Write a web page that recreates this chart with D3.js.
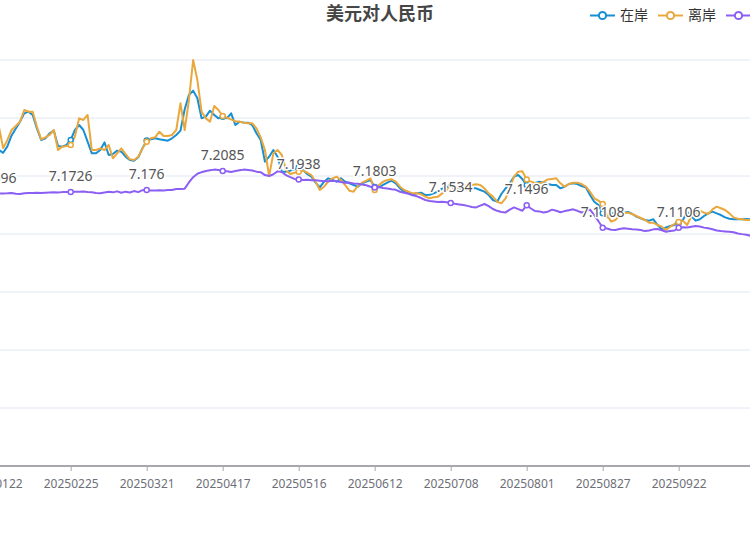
<!DOCTYPE html>
<html>
<head>
<meta charset="utf-8">
<script src="https://cdn.jsdelivr.net/npm/d3@7"></script>
<style>
  body { margin: 0; background: #fff; overflow: hidden; }
  svg { display: block; font-family: "Noto Sans", "Noto Sans CJK SC", sans-serif; }
</style>
</head>
<body>
<div id="chart"></div>
<script>
// trading days (only the part of the chart that is in view)
const categories = [
  "20250122","20250123","20250124","20250127","20250205","20250206","20250207",
  "20250210","20250211","20250212","20250213","20250214","20250217","20250218","20250219","20250220","20250221",
  "20250224","20250225","20250226","20250227","20250228","20250303","20250304","20250305","20250306","20250307",
  "20250310","20250311","20250312","20250313","20250314","20250317","20250318","20250319","20250320","20250321",
  "20250324","20250325","20250326","20250327","20250328","20250331","20250401","20250402","20250403",
  "20250407","20250408","20250409","20250410","20250411","20250414","20250415","20250416","20250417","20250418",
  "20250421","20250422","20250423","20250424","20250425","20250428","20250429","20250430",
  "20250506","20250507","20250508","20250509","20250512","20250513","20250514","20250515","20250516",
  "20250519","20250520","20250521","20250522","20250523","20250526","20250527","20250528","20250529","20250530",
  "20250603","20250604","20250605","20250606","20250609","20250610","20250611","20250612","20250613",
  "20250616","20250617","20250618","20250619","20250620","20250623","20250624","20250625","20250626","20250627",
  "20250630","20250701","20250702","20250703","20250704","20250707","20250708","20250709","20250710","20250711",
  "20250714","20250715","20250716","20250717","20250718","20250721","20250722","20250723","20250724","20250725",
  "20250728","20250729","20250730","20250731","20250801","20250804","20250805","20250806","20250807","20250808",
  "20250811","20250812","20250813","20250814","20250815","20250818","20250819","20250820","20250821","20250822",
  "20250825","20250826","20250827","20250828","20250829","20250901","20250902","20250903","20250904","20250905",
  "20250908","20250909","20250910","20250911","20250912","20250915","20250916","20250917","20250918","20250919",
  "20250922","20250923","20250924","20250925","20250926","20250929","20250930","20251009","20251010",
  "20251013","20251014","20251015","20251016","20251017","20251020","20251021","20251022","20251023"
];

const onshore = [
  7.2520,7.2448,7.2400,7.2510,7.2700,7.2820,7.2937,7.3080,7.3109,7.3052,7.2822,7.2621,7.2650,7.2736,7.2782,7.2518,7.2506,7.2535,
  7.2621,7.2793,7.2879,7.2793,7.2592,7.2391,7.2391,7.2448,7.2580,7.2362,7.2379,7.2437,7.2419,7.2333,7.2276,7.2264,7.2322,7.2477,
  7.2610,7.2632,7.2650,7.2632,7.2621,7.2609,7.2650,7.2707,7.2782,7.3150,7.3397,7.3472,7.3340,7.2994,7.3023,7.3126,7.3052,7.2994,
  7.3023,7.2994,7.3080,7.2879,7.2937,7.2920,7.2920,7.2879,7.2736,7.2621,7.2247,7.2333,7.2448,7.2333,7.2075,7.2075,7.2092,7.2115,
  7.2149,7.2103,7.2034,7.1988,7.1885,7.1805,7.1902,7.1960,7.1931,7.1902,7.1960,7.1902,7.1874,7.1845,7.1816,7.1874,7.1902,7.1931,
  7.1810,7.1805,7.1845,7.1885,7.1920,7.1874,7.1787,7.1730,7.1701,7.1684,7.1701,7.1713,7.1672,7.1678,7.1701,7.1736,7.1782,7.1805,
  7.1816,7.1805,7.1782,7.1770,7.1770,7.1787,7.1787,7.1759,7.1730,7.1672,7.1586,7.1557,7.1690,7.1787,7.1874,7.1988,7.2017,7.1943,
  7.1845,7.1816,7.1880,7.1900,7.1885,7.1862,7.1845,7.1845,7.1787,7.1816,7.1862,7.1874,7.1862,7.1828,7.1805,7.1672,7.1557,7.1500,
  7.1356,7.1287,7.1356,7.1368,7.1356,7.1368,7.1379,7.1345,7.1299,7.1270,7.1241,7.1230,7.1253,7.1155,7.1080,7.1115,7.1138,7.1155,
  7.1195,7.1241,7.1385,7.1310,7.1230,7.1253,7.1310,7.1356,7.1385,7.1356,7.1327,7.1287,7.1264,7.1253,7.1253,7.1253,7.1259,7.1253
];

const offshore = [
  7.2900,7.2850,7.2480,7.2621,7.2793,7.2862,7.2937,7.3138,7.3109,7.3109,7.2850,7.2632,7.2667,7.2707,7.2793,7.2448,7.2506,7.2518,
  7.2535,7.2680,7.2994,7.2966,7.3052,7.2448,7.2448,7.2477,7.2448,7.2535,7.2305,7.2391,7.2477,7.2379,7.2287,7.2276,7.2333,7.2477,
  7.2592,7.2650,7.2667,7.2764,7.2690,7.2690,7.2707,7.2793,7.3253,7.2793,7.3310,7.4000,7.3655,7.3109,7.2994,7.2937,7.3207,7.3138,
  7.3034,7.3005,7.2977,7.2943,7.2937,7.2920,7.2908,7.2908,7.2822,7.2667,7.2448,7.2000,7.2391,7.2448,7.2362,7.2103,7.2034,7.2057,
  7.2075,7.2092,7.2057,7.2017,7.1902,7.1759,7.1816,7.1902,7.1960,7.1988,7.1931,7.1845,7.1747,7.1730,7.1828,7.1885,7.1920,7.1960,
  7.1760,7.1845,7.1903,7.1931,7.1943,7.1903,7.1816,7.1759,7.1730,7.1701,7.1701,7.1684,7.1644,7.1615,7.1632,7.1644,7.1701,7.1759,
  7.1770,7.1787,7.1805,7.1828,7.1845,7.1845,7.1857,7.1845,7.1787,7.1701,7.1644,7.1557,7.1529,7.1615,7.1787,7.1988,7.2075,7.2080,
  7.1940,7.1900,7.1880,7.1870,7.1900,7.1940,7.1950,7.1960,7.1874,7.1816,7.1862,7.1885,7.1885,7.1862,7.1816,7.1730,7.1615,7.1575,
  7.1517,7.1327,7.1213,7.1241,7.1327,7.1356,7.1368,7.1345,7.1310,7.1276,7.1241,7.1195,7.1195,7.1155,7.1126,7.1069,7.1126,7.1172,
  7.1207,7.1230,7.1155,7.1310,7.1356,7.1402,7.1368,7.1345,7.1425,7.1471,7.1443,7.1414,7.1356,7.1287,7.1264,7.1253,7.1241,7.1241
];

const central = [
  7.1696,7.1698,7.1699,7.1701,7.1705,7.1693,7.1691,7.1703,7.1705,7.1708,7.1712,7.1706,7.1710,7.1715,7.1720,7.1717,7.1722,7.1724,
  7.1726,7.1727,7.1729,7.1733,7.1723,7.1720,7.1706,7.1704,7.1717,7.1728,7.1718,7.1735,7.1710,7.1730,7.1715,7.1740,7.1722,7.1755,
  7.1760,7.1752,7.1749,7.1755,7.1751,7.1757,7.1760,7.1775,7.1776,7.1782,7.1889,7.1980,7.2038,7.2066,7.2087,7.2100,7.2110,7.2105,
  7.2085,7.2080,7.2069,7.2085,7.2098,7.2110,7.2104,7.2095,7.2075,7.2066,7.2016,7.1999,7.2030,7.2080,7.2070,7.2014,7.1980,7.1950,
  7.1938,7.1931,7.1935,7.1928,7.1926,7.1920,7.1910,7.1908,7.1918,7.1909,7.1895,7.1883,7.1886,7.1870,7.1865,7.1855,7.1840,7.1815,
  7.1803,7.1811,7.1793,7.1785,7.1772,7.1761,7.1729,7.1710,7.1695,7.1668,7.1650,7.1620,7.1586,7.1570,7.1560,7.1550,7.1556,7.1546,
  7.1534,7.1520,7.1510,7.1500,7.1485,7.1466,7.1458,7.1490,7.1517,7.1480,7.1431,7.1400,7.1380,7.1372,7.1420,7.1458,7.1430,7.1401,
  7.1496,7.1440,7.1395,7.1390,7.1370,7.1385,7.1420,7.1400,7.1375,7.1395,7.1410,7.1425,7.1400,7.1370,7.1390,7.1420,7.1325,7.1220,
  7.1108,7.1095,7.1072,7.1068,7.1085,7.1100,7.1090,7.1080,7.1078,7.1068,7.1050,7.1060,7.1080,7.1085,7.1065,7.1040,7.1050,7.1060,
  7.1106,7.1118,7.1112,7.1125,7.1138,7.1130,7.1110,7.1098,7.1082,7.1060,7.1050,7.1045,7.1040,7.1030,7.1010,7.0998,7.0988,7.0970
];

const seriesNames = ["在岸", "离岸", "中间价"];
const yTicks = [6.7, 6.8, 6.9, 7.0, 7.1, 7.2, 7.3, 7.4];
const labelEvery = 18;   // one axis label / symbol every 18 trading days

const colors = ["#168fd4", "#eaa83c", "#8c5ff4"];
const width = 750, height = 536;
// the plot is wider than the window, so its ends fall outside it
const grid = { left: -5.3, step: 4.2222, top: 60, bottom: 466 };

const svg = d3.select("#chart").append("svg")
    .attr("width", width)
    .attr("height", height);

const x = d3.scalePoint()
    .domain(categories)
    .range([grid.left, grid.left + grid.step * (categories.length - 1)]);

const y = d3.scaleLinear()
    .domain([6.7, 7.4])
    .range([grid.bottom, grid.top]);

// grid lines
svg.append("g")
  .selectAll("line")
  .data(yTicks.slice(1))
  .join("line")
    .attr("x1", 0).attr("x2", width)
    .attr("y1", d => y(d)).attr("y2", d => y(d))
    .attr("stroke", "#e0e6f1")
    .attr("stroke-width", 1);

// x axis
const tickCats = categories.filter((d, i) => i % labelEvery === 0);
const xAxis = d3.axisBottom(x)
    .tickValues(tickCats)
    .tickSizeInner(5)
    .tickSizeOuter(0)
    .tickPadding(8);

const gx = svg.append("g")
    .attr("transform", `translate(0,${grid.bottom})`)
    .call(xAxis);
gx.select(".domain").remove();
gx.append("line")
    .attr("x1", 0).attr("x2", width)
    .attr("stroke", "#a8a8ac")
    .attr("stroke-width", 2);
gx.selectAll(".tick line").attr("stroke", "#a8a8ac");
gx.selectAll(".tick text")
    .attr("fill", "#6e7079")
    .attr("font-size", 12)
    .attr("font-family", "Noto Sans, sans-serif");

// series
const series = [onshore, offshore, central];
const line = d3.line()
    .x((d, i) => x(categories[i]))
    .y(d => y(d));

series.forEach((vals, s) => {
  svg.append("path")
      .datum(vals)
      .attr("fill", "none")
      .attr("stroke", colors[s])
      .attr("stroke-width", 2)
      .attr("stroke-linejoin", "round")
      .attr("d", line);
});

series.forEach((vals, s) => {
  svg.append("g")
    .selectAll("circle")
    .data(vals.map((v, i) => ({ v, i })).filter(d => d.i % labelEvery === 0))
    .join("circle")
      .attr("cx", d => x(categories[d.i]))
      .attr("cy", d => y(d.v))
      .attr("r", 2.5)
      .attr("fill", "#fff")
      .attr("stroke", colors[s])
      .attr("stroke-width", 1.5);
});

// value labels on the central parity line
svg.append("g")
  .selectAll("text")
  .data(central.map((v, i) => ({ v, i })).filter(d => d.i % labelEvery === 0))
  .join("text")
    .attr("x", d => x(categories[d.i]))
    .attr("y", d => y(d.v) - 11)
    .attr("text-anchor", "middle")
    .attr("font-size", 14)
    .attr("fill", "#555")
    .attr("stroke", "#fff")
    .attr("stroke-width", 3)
    .attr("stroke-linejoin", "round")
    .attr("paint-order", "stroke")
    .text(d => String(d.v));

// title
svg.append("text")
    .attr("x", 380)
    .attr("y", 19.5)
    .attr("text-anchor", "middle")
    .attr("font-family", "Noto Sans CJK SC, sans-serif")
    .attr("font-size", 18)
    .attr("font-weight", "bold")
    .attr("fill", "#464646")
    .text("美元对人民币");

// legend
const legend = svg.append("g").attr("transform", "translate(590,15.5)");
let lx = 0;
seriesNames.forEach((name, s) => {
  const item = legend.append("g").attr("transform", `translate(${lx},0)`);
  item.append("line")
      .attr("x1", 0).attr("x2", 25)
      .attr("stroke", colors[s])
      .attr("stroke-width", 2);
  item.append("circle")
      .attr("cx", 12.5)
      .attr("r", 3.6)
      .attr("fill", "#fff")
      .attr("stroke", colors[s])
      .attr("stroke-width", 2);
  const t = item.append("text")
      .attr("x", 30)
      .attr("dy", "0.35em")
      .attr("font-family", "Noto Sans CJK SC, sans-serif")
      .attr("font-size", 14)
      .attr("fill", "#333")
      .text(name);
  lx += 30 + t.node().getComputedTextLength() + 10;
});
</script>
</body>
</html>
